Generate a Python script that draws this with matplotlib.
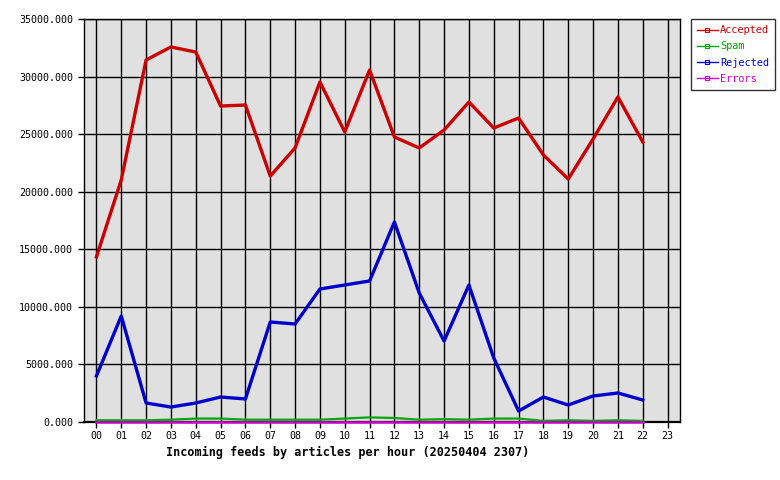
import matplotlib
matplotlib.use("Agg")
import matplotlib.pyplot as plt
from matplotlib.lines import Line2D

hours = ["00","01","02","03","04","05","06","07","08","09","10","11",
         "12","13","14","15","16","17","18","19","20","21","22","23"]
accepted = [14330,21020,31440,32570,32130,27440,27530,21360,23800,29530,25190,30570,
            24750,23800,25360,27790,25530,26400,23190,21100,24580,28230,24320]
spam = [150,150,150,200,300,300,200,200,200,200,300,400,
        350,200,250,200,300,300,100,150,100,150,100]
rejected = [3995,9206,1650,1300,1650,2170,2000,8685,8511,11550,11900,12250,
            17370,11200,7035,11900,5560,955,2170,1476,2258,2518,1910]
errors = [40]*23
series_names = ["Accepted","Spam","Rejected","Errors"]
colors = ["#cc0000","#00aa00","#0000cc","#cc00cc"]
yticks = [0,5000,10000,15000,20000,25000,30000,35000]
title = "Incoming feeds by articles per hour (20250404 2307)"

plt.rcParams['font.family'] = ['DejaVu Sans Mono']
fig = plt.figure(figsize=(7.8,4.8), dpi=100)
ax = fig.add_axes([84/780, 1-422/480, (680-84)/780, (422-19)/480])
ax.set_facecolor("#e0e0e0")
x = list(range(len(accepted)))
data = [accepted, spam, rejected, errors]
lws = [2.4, 1.6, 2.4, 1.8]
zs = [3, 3, 3, 5]
for d, c, lw, n, z in zip(data, colors, lws, series_names, zs):
    ax.plot(x, d, color=c, lw=lw, label=n, zorder=z, clip_on=False)
ax.set_xlim(-0.5, 23.5)
ax.set_ylim(0, 35000)
ax.set_xticks(range(24))
ax.set_xticklabels(hours, fontsize=7.2)
ax.set_yticks(yticks)
ax.set_yticklabels([f"{v:.3f}" for v in yticks], fontsize=7.2)
ax.grid(True, color="black", lw=1, zorder=1)
ax.set_axisbelow(True)
for s in ax.spines.values():
    s.set_color("black"); s.set_linewidth(1)
ax.spines["bottom"].set_linewidth(1.6)
ax.tick_params(direction="out", length=4.5, width=1, color="black")
ax.tick_params(axis="x", pad=2)
ax.tick_params(axis="y", pad=3.5)
fig.text(348/780, 1-452/480, title, ha="center", va="center",
         fontsize=8.5, fontweight="bold")

handles = [Line2D([0],[0], color=c, lw=1, marker='s', markersize=2.5,
                  markerfacecolor='none', markeredgewidth=0.8) for c in colors]
leg = fig.legend(handles, series_names, loc="upper left",
                 bbox_to_anchor=(691/780, 1-19/480), fontsize=7.4,
                 labelcolor=colors, frameon=True, fancybox=False,
                 edgecolor="black", handlelength=2.0, handletextpad=0.2,
                 borderpad=0.6, labelspacing=0.6, borderaxespad=0)
leg.get_frame().set_linewidth(1)
fig.savefig("out.png", dpi=100)
